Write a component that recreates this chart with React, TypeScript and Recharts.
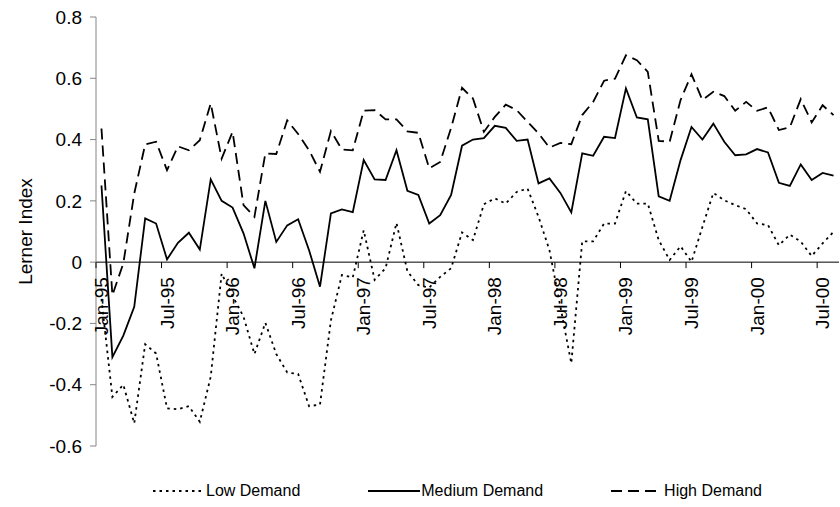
import React from 'react';
import { LineChart, Line, XAxis, YAxis, ReferenceLine, Legend } from 'recharts';

const MONTHS = ['Jan', 'Feb', 'Mar', 'Apr', 'May', 'Jun', 'Jul', 'Aug', 'Sep', 'Oct', 'Nov', 'Dec'];
const YEARS = ['95', '96', '97', '98', '99', '00'];
const CATEGORIES = YEARS.flatMap((y) => MONTHS.map((m) => `${m}-${y}`)).slice(0, 68);

const Y_TICKS = [-0.6, -0.4, -0.2, 0, 0.2, 0.4, 0.6, 0.8];

const LOW = [
  -0.12, -0.44, -0.4, -0.526, -0.268, -0.298, -0.477, -0.48, -0.47, -0.521, -0.374, -0.037,
  -0.11, -0.178, -0.3, -0.198, -0.3, -0.36, -0.365, -0.47, -0.465, -0.19, -0.042, -0.05,
  0.104, -0.058, -0.02, 0.128, -0.03, -0.075, -0.083, -0.048, -0.02, 0.097, 0.072, 0.189,
  0.208, 0.191, 0.229, 0.24, 0.148, 0.039, -0.145, -0.33, 0.068, 0.068, 0.126, 0.126,
  0.232, 0.191, 0.191, 0.072, 0.007, 0.052, 0.001, 0.115, 0.226, 0.202, 0.186, 0.173,
  0.126, 0.121, 0.055, 0.09, 0.067, 0.02, 0.061, 0.099,
];

const MEDIUM = [
  0.25, -0.31, -0.24, -0.146, 0.143, 0.126, 0.009, 0.063, 0.096, 0.041, 0.27, 0.2,
  0.178, 0.094, -0.02, 0.2, 0.066, 0.12, 0.14, 0.039, -0.08, 0.159, 0.172, 0.163,
  0.333, 0.27, 0.268, 0.365, 0.233, 0.219, 0.126, 0.153, 0.219, 0.38, 0.4, 0.405,
  0.445, 0.438, 0.396, 0.4, 0.257, 0.273, 0.226, 0.162, 0.355, 0.347, 0.409, 0.405,
  0.567, 0.472, 0.466, 0.215, 0.2, 0.333, 0.441, 0.4, 0.452, 0.393, 0.349, 0.352,
  0.369, 0.358, 0.259, 0.249, 0.319, 0.268, 0.291, 0.282,
];

const HIGH = [
  0.436, -0.108, -0.004, 0.224, 0.384, 0.393, 0.3, 0.378, 0.365, 0.398, 0.518, 0.338,
  0.425, 0.186, 0.148, 0.355, 0.353, 0.463, 0.418, 0.365, 0.295, 0.428, 0.368, 0.365,
  0.494, 0.496, 0.466, 0.466, 0.427, 0.422, 0.306, 0.327, 0.438, 0.569, 0.534, 0.425,
  0.474, 0.514, 0.496, 0.458, 0.42, 0.374, 0.389, 0.385, 0.48, 0.523, 0.592, 0.599,
  0.675, 0.659, 0.621, 0.396, 0.393, 0.529, 0.613, 0.529, 0.556, 0.542, 0.494, 0.523,
  0.494, 0.505, 0.431, 0.44, 0.532, 0.456, 0.512, 0.48,
];

const data = CATEGORIES.map((month, i) => ({
  month,
  low: LOW[i],
  medium: MEDIUM[i],
  high: HIGH[i],
}));

const FONT = '"Liberation Sans", Arial, sans-serif';
const W = 840;
const H = 507;
const MARGIN = { top: 17, right: 1, bottom: 60, left: 0 };
const X_AXIS_H = 1;
const Y_AXIS_W = 96;
const PLOT_H = H - MARGIN.top - MARGIN.bottom - X_AXIS_H;
const ZERO_Y = MARGIN.top + (PLOT_H * 0.8) / 1.4;
const BAND = (W - Y_AXIS_W - MARGIN.left - MARGIN.right) / CATEGORIES.length;

const SERIES = [
  { key: 'low', name: 'Low Demand', dash: '2.5 4', sample: 52, gap: 1 },
  { key: 'medium', name: 'Medium Demand', dash: undefined, sample: 52, gap: 1 },
  { key: 'high', name: 'High Demand', dash: '11 6', sample: 45, gap: 8 },
];

// excel style: tick marks between months, label centred on the month, axis sits at y = 0
function MonthTick(props: any) {
  const { x, payload } = props;
  const tx = x - BAND / 2;
  return (
    <g>
      <line x1={tx} x2={tx} y1={ZERO_Y} y2={ZERO_Y + 6} stroke="#000" />
      <text
        transform={`translate(${x},${ZERO_Y + 15}) rotate(-90)`}
        textAnchor="end"
        dominantBaseline="central"
        fontSize={19}
        fontFamily={FONT}
        fill="#000"
      >
        {payload.value}
      </text>
    </g>
  );
}

function YTitle(props: any) {
  const { viewBox } = props;
  const cx = viewBox.x + 25;
  const cy = viewBox.y + viewBox.height / 2;
  return (
    <text
      x={cx}
      y={cy}
      transform={`rotate(-90 ${cx} ${cy})`}
      textAnchor="middle"
      dominantBaseline="central"
      fontSize={19}
      fontFamily={FONT}
      fill="#000"
    >
      Lerner Index
    </text>
  );
}

function LegendContent() {
  return (
    <div
      style={{
        display: 'flex',
        alignItems: 'center',
        gap: 68,
        fontFamily: FONT,
        fontSize: 16,
        color: '#000',
      }}
    >
      {SERIES.map((s) => (
        <div key={s.key} style={{ display: 'flex', alignItems: 'center' }}>
          <svg width={s.sample} height={10} style={{ marginRight: s.gap }}>
            <line x1={0} x2={s.sample} y1={5} y2={5} stroke="#000" strokeWidth={1.8} strokeDasharray={s.dash} />
          </svg>
          <span>{s.name}</span>
        </div>
      ))}
    </div>
  );
}

export default function App() {
  return (
    <div style={{ position: 'absolute', left: 0, top: 0, width: W, height: H, background: '#fff' }}>
      <LineChart width={W} height={H} data={data} margin={MARGIN}>
        <XAxis
          dataKey="month"
          height={X_AXIS_H}
          interval={5}
          axisLine={false}
          tickLine={false}
          tick={<MonthTick />}
          padding={{ left: BAND / 2, right: BAND / 2 }}
        />
        <YAxis
          width={Y_AXIS_W}
          domain={[-0.6, 0.8]}
          ticks={Y_TICKS}
          allowDataOverflow
          stroke="#868686"
          tickSize={6}
          tickMargin={8}
          tick={{ fill: '#000', fontSize: 19, fontFamily: FONT }}
          label={<YTitle />}
        />
        <ReferenceLine y={0} stroke="#000" strokeWidth={1} />
        {SERIES.map((s) => (
          <Line
            key={s.key}
            dataKey={s.key}
            name={s.name}
            type="linear"
            stroke="#000"
            strokeWidth={1.8}
            strokeDasharray={s.dash}
            dot={false}
            activeDot={false}
            isAnimationActive={false}
          />
        ))}
        <Legend
          verticalAlign="middle"
          align="center"
          layout="horizontal"
          content={<LegendContent />}
          wrapperStyle={{ top: 482, left: 153, width: 660 }}
        />
      </LineChart>
    </div>
  );
}
